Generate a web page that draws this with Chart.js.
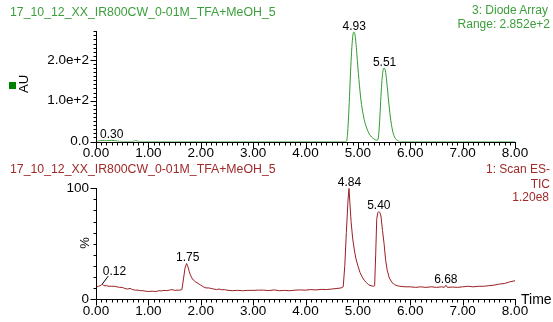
<!DOCTYPE html>
<html>
<head>
<meta charset="utf-8">
<script src="https://cdn.jsdelivr.net/npm/chart.js@4.4.0/dist/chart.umd.min.js"></script>
<style>
  html, body { margin: 0; padding: 0; background: #fff; }
  #wrap { position: relative; width: 553px; height: 322px; overflow: hidden; background: #fff; }
  canvas { position: absolute; left: 0; }
  .t { position: absolute; white-space: nowrap; font-family: "Liberation Sans", Arial, sans-serif; font-size: 12px; height: 14px; line-height: 14px; }
  .tt { font-size: 12.3px; }
  .g { color: #3a9f3a; }
  .r { color: #a02a2a; }
  .rt { text-align: right; }
</style>
</head>
<body>
<div id="wrap">
  <canvas id="c1" width="553" height="165" style="top:0px"></canvas>
  <canvas id="c2" width="553" height="162" style="top:160px"></canvas>

  <div class="t tt g" style="left:10px; top:5px;">17_10_12_XX_IR800CW_0-01M_TFA+MeOH_5</div>
  <div class="t g rt" style="right:5px; top:3px;">3: Diode Array</div>
  <div class="t g rt" style="right:3px; top:17px;">Range: 2.852e+2</div>
  <div style="position:absolute; left:9px; top:82px; width:7px; height:7px; background:#008000;"></div>
  <div class="t" style="left:16px; top:78px; font-size:13px; transform:rotate(-90deg); transform-origin:50% 50%; width:16px; text-align:center;">AU</div>

  <div class="t tt r" style="left:10px; top:162px;">17_10_12_XX_IR800CW_0-01M_TFA+MeOH_5</div>
  <div class="t r rt" style="right:3px; top:162px;">1: Scan ES-</div>
  <div class="t r rt" style="right:3px; top:177px;">TIC</div>
  <div class="t r rt" style="right:4px; top:190px;">1.20e8</div>
  <div class="t" style="left:79px; top:236px; font-size:13px; transform:rotate(-90deg); transform-origin:50% 50%; width:12px; text-align:center;">%</div>
  <div class="t" style="left:521px; top:292px; font-size:14px;">Time</div>
</div>

<script>
// ---------- DATA ----------
// Diode array (UV) trace: retention time (min) and absorbance (AU)
const uvTimes = [0.00, 0.05, 0.12, 0.20, 0.30, 0.40, 0.50, 0.70, 0.76, 0.82,
  1.50, 2.50, 3.50, 4.50, 4.76, 4.78,
  4.80, 4.82, 4.84, 4.86, 4.88, 4.90, 4.92, 4.94, 4.96, 4.98,
  5.00, 5.02, 5.04, 5.06, 5.08, 5.10, 5.12, 5.14, 5.16, 5.18,
  5.20, 5.22, 5.24, 5.26, 5.28, 5.30, 5.32, 5.34, 5.36, 5.38,
  5.40, 5.42, 5.44, 5.46, 5.48, 5.50, 5.52, 5.54, 5.56, 5.58,
  5.60, 5.62, 5.64, 5.66, 5.68, 5.70, 5.72, 5.74, 5.76,
  5.80, 6.50, 7.50, 8.00];
const uvValues = [0, 1, 2.5, 1.5, 3, 1, 0, 0, 2, 0,
  0, 0, 0, 0, 0, 0,
  15, 55, 110, 170, 220, 255, 268, 265, 245, 215,
  182, 152, 124, 100, 82, 67, 54, 44, 36, 29,
  23, 18, 14, 11, 9, 7, 5, 4, 3, 4,
  20, 60, 110, 150, 174, 180, 176, 160, 135, 108,
  82, 60, 42, 28, 18, 11, 7, 4, 2,
  0, 0, 0, 0];
const uvPeakTimes = [0.30, 4.93, 5.51];
const uvPeakHeights = [3, 268, 180];

// MS TIC trace: retention time (min) and relative intensity (%)
const ticTimes = [
  0.00, 0.05, 0.10, 0.12, 0.15, 0.20, 0.25, 0.30, 0.35, 0.40,
  0.45, 0.50, 0.55, 0.60, 0.65, 0.70, 0.75, 0.80, 0.85, 0.90,
  0.95, 1.00, 1.05, 1.10, 1.15, 1.20, 1.25, 1.30, 1.35, 1.40,
  1.45, 1.50, 1.55, 1.60, 1.64, 1.67, 1.70, 1.73, 1.75, 1.78,
  1.80, 1.83, 1.86, 1.90, 1.95, 2.00, 2.05, 2.10, 2.15, 2.20,
  2.25, 2.30, 2.35, 2.40, 2.45, 2.50, 2.60, 2.70, 2.80, 2.90,
  3.00, 3.10, 3.20, 3.30, 3.40, 3.50, 3.60, 3.70, 3.80, 3.90,
  4.00, 4.10, 4.20, 4.30, 4.40, 4.50, 4.60, 4.68, 4.72, 4.75,
  4.78, 4.81, 4.83, 4.85, 4.87, 4.90, 4.93, 4.96, 5.00, 5.04,
  5.08, 5.12, 5.16, 5.20, 5.25, 5.30, 5.32, 5.34, 5.36, 5.38,
  5.40, 5.42, 5.44, 5.47, 5.50, 5.53, 5.56, 5.60, 5.65, 5.70,
  5.75, 5.80, 5.90, 6.00, 6.10, 6.20, 6.30, 6.40, 6.50, 6.60,
  6.65, 6.68, 6.71, 6.80, 6.90, 7.00, 7.10, 7.20, 7.30, 7.40,
  7.50, 7.60, 7.70, 7.80, 7.90, 8.00];
const ticValues = [
  10.5, 11.5, 12.5, 13.5, 12, 12, 11.5, 11.5, 11.5, 11,
  10.5, 10.5, 9.5, 9, 9.5, 8.5, 8, 8, 7.5, 7.5,
  7, 6.8, 7, 7, 6.8, 7.5, 7.3, 7.8, 7.6, 8,
  8.5, 7.8, 8, 8, 8.5, 18, 28, 32, 30, 25,
  22, 19, 17, 15.5, 14, 12.5, 11, 10, 10, 9.5,
  9, 8.5, 9, 8.3, 8.5, 8, 7.5, 7.8, 7.5, 7.8,
  7.8, 8, 8, 7.6, 8.2, 7.5, 7.8, 7.5, 8, 8.2,
  8, 8.5, 8.2, 8.7, 8.5, 9, 9.5, 10, 11, 30,
  60, 88, 100, 85, 70, 55, 45, 37, 30, 24,
  20, 17, 15, 13, 12, 11.5, 12, 40, 72, 78,
  79, 78, 75, 62, 50, 35, 26, 19, 15, 13,
  12, 11.5, 11, 11, 10.5, 11, 10.5, 11, 10.5, 11,
  10.5, 12.5, 10.5, 10.8, 10.5, 11, 11.5, 11, 11.5, 11.5,
  12, 12.5, 13.5, 14, 15.5, 16.5];
const ticPeakTimes = [0.12, 1.75, 4.84, 5.40, 6.68];
const ticPeakHeights = [13.5, 32, 100, 79, 12.5];

// Axis tick labels
const xTickLabels = ['0.00', '1.00', '2.00', '3.00', '4.00', '5.00', '6.00', '7.00', '8.00'];
const uvTickLabels = { 0: '0.0', 100: '1.0e+2', 200: '2.0e+2' };
const ticTickLabels = { 0: '0', 100: '100' };

// ---------- STYLE ----------
const FONT = '"Liberation Sans", Arial, sans-serif';
const GREEN = '#2f9a2f';
const RED = '#9a1f22';

// Axis lines and tick marks (major/minor) drawn through the chart's scales
const msAxes = {
  id: 'msAxes',
  afterDraw(chart, args, o) {
    const ctx = chart.ctx, xs = chart.scales.x, ys = chart.scales.y, a = chart.chartArea;
    ctx.save();
    ctx.strokeStyle = '#000';
    ctx.lineWidth = 1;
    ctx.beginPath();
    const L = Math.round(a.left) + 0.5, B = Math.round(a.bottom) + 0.5;
    ctx.moveTo(L, Math.round(a.top));
    ctx.lineTo(L, B);
    ctx.lineTo(Math.round(a.right) + 1, B);
    const nx = Math.round((xs.max - xs.min) / o.xMinor);
    for (let i = 0; i <= nx; i++) {
      const v = xs.min + i * o.xMinor;
      const px = Math.round(xs.getPixelForValue(v)) + 0.5;
      const major = i % Math.round(o.xMajor / o.xMinor) === 0;
      ctx.moveTo(px, B);
      ctx.lineTo(px, B + (major ? 6 : 3));
    }
    const ny = Math.floor((ys.max - ys.min) / o.yMinor + 1e-6);
    for (let i = 0; i <= ny; i++) {
      const v = ys.min + i * o.yMinor;
      const py = Math.round(ys.getPixelForValue(v)) + 0.5;
      const major = i % Math.round(o.yMajor / o.yMinor) === 0;
      ctx.moveTo(L, py);
      ctx.lineTo(L - (major ? 6 : 3), py);
    }
    ctx.stroke();
    ctx.restore();
  }
};

// Peak retention-time labels placed at the peak's data coordinates
const peakLabels = {
  id: 'peakLabels',
  afterDatasetsDraw(chart, args, o) {
    const ctx = chart.ctx, xs = chart.scales.x, ys = chart.scales.y;
    ctx.save();
    ctx.fillStyle = '#000';
    ctx.font = '12px ' + FONT;
    ctx.textBaseline = 'alphabetic';
    o.times.forEach((t, i) => {
      const px = xs.getPixelForValue(t), py = ys.getPixelForValue(o.heights[i]);
      const txt = t.toFixed(2);
      if (o.leader && o.leader.indexOf(i) >= 0) {
        ctx.strokeStyle = '#000';
        ctx.lineWidth = 1;
        ctx.beginPath();
        ctx.moveTo(px, py);
        ctx.lineTo(px + 6, py - 8);
        ctx.stroke();
        ctx.textAlign = 'left';
        ctx.fillText(txt, px + 0.5, py - 9);
      } else {
        ctx.textAlign = 'center';
        ctx.fillText(txt, px, py - 2.5);
      }
    });
    ctx.restore();
  }
};

function makeChart(id, times, values, color, smooth, yMax, yLabels, yMinor, yMajor, pad, peaks) {
  return new Chart(document.getElementById(id), {
    type: 'line',
    data: {
      datasets: [{
        data: times.map((t, i) => ({ x: t, y: values[i] })),
        borderColor: color,
        borderWidth: 1,
        pointRadius: 0,
        fill: false,
        cubicInterpolationMode: smooth ? 'monotone' : 'default',
        tension: 0
      }]
    },
    options: {
      responsive: false,
      animation: false,
      devicePixelRatio: 1,
      layout: { padding: pad },
      plugins: {
        legend: { display: false },
        tooltip: { enabled: false },
        msAxes: { xMinor: 0.1, xMajor: 1, yMinor: yMinor, yMajor: yMajor },
        peakLabels: peaks
      },
      scales: {
        x: {
          type: 'linear', min: 0, max: 8,
          grid: { display: false, drawTicks: false },
          border: { display: false },
          ticks: {
            stepSize: 1, autoSkip: false, includeBounds: false, padding: 4, maxRotation: 0,
            color: '#000', font: { family: FONT, size: 13.5 },
            callback: (v) => xTickLabels[Math.round(v)]
          },
          afterFit(s) { s.height = 20; }
        },
        y: {
          type: 'linear', min: 0, max: yMax,
          grid: { display: false, drawTicks: false },
          border: { display: false },
          ticks: {
            stepSize: yMajor, autoSkip: false, includeBounds: false, padding: 7,
            color: '#000', font: { family: FONT, size: 13.5 },
            callback: (v) => (yLabels[v] !== undefined ? yLabels[v] : '')
          },
          afterFit(s) { s.width = 96; }
        }
      }
    },
    plugins: [msAxes, peakLabels]
  });
}

makeChart('c1', uvTimes, uvValues, GREEN, true, 272, uvTickLabels, 10, 100,
  { top: 30.5, right: 38, left: 0, bottom: 3.5 },
  { times: uvPeakTimes, heights: uvPeakHeights });

makeChart('c2', ticTimes, ticValues, RED, false, 100, ticTickLabels, 10, 100,
  { top: 28.3, right: 38, left: 0, bottom: 3 },
  { times: ticPeakTimes, heights: ticPeakHeights, leader: [0] });
</script>
</body>
</html>
